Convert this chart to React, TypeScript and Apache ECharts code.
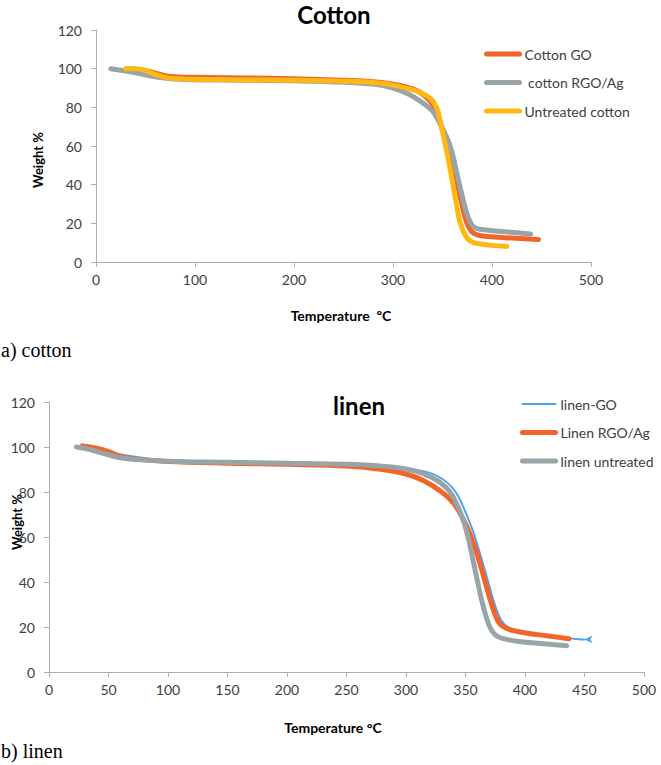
import React, { useEffect, useRef } from "react";
import * as echarts from "echarts";

// ---- Cotton (top) ----
const cottonGoTemp = [32, 45, 55, 65, 75, 100, 150, 200, 250, 280, 300, 320, 332, 342, 349, 355, 360, 365, 369.5, 374, 379, 385, 395, 420, 447];
const cottonGoWeight = [100, 99.5, 98.5, 97, 96, 95.5, 95.2, 94.8, 94, 93.3, 92, 89.5, 86, 80, 70, 60, 50, 40, 30, 21, 16, 14, 13.2, 12.4, 11.7];

const cottonRgoTemp = [15, 30, 45, 60, 75, 100, 150, 200, 250, 280, 300, 315, 328, 340, 347, 353, 359, 364, 370, 376, 382, 390, 410, 439];
const cottonRgoWeight = [100, 98.8, 97.3, 95.8, 94.8, 94.3, 94, 93.7, 93, 92, 90, 87, 83, 78, 72, 66, 58, 47, 34, 23, 18, 16.8, 15.8, 14.5];

const cottonRawTemp = [30, 40, 50, 60, 75, 100, 150, 200, 250, 280, 300, 320, 330, 338, 344, 349, 353, 357, 360.5, 364, 368, 374, 380, 390, 400, 415];
const cottonRawWeight = [100, 100, 99, 97, 95, 94.5, 94.2, 94, 93.5, 92.8, 91.5, 89, 87, 84.5, 80, 70, 60, 50, 40, 30, 20, 13, 10.3, 9.2, 8.6, 8];

// ---- Linen (bottom) ----
const linenGoTemp = [25, 40, 55, 75, 100, 150, 200, 250, 280, 300, 320, 330, 338, 344, 350, 356, 362, 368, 374, 380, 386, 395, 410, 430, 445, 450];
const linenGoWeight = [100, 99, 97.3, 95.5, 94, 93.2, 92.7, 92.2, 91.5, 90.5, 88.5, 86, 82.5, 78, 71, 63, 53, 42, 31, 23, 19.8, 18.2, 17, 15.5, 14.6, 14.5];

const linenRgoTemp = [28, 40, 50, 60, 75, 100, 150, 200, 250, 280, 300, 315, 330, 340, 348, 354, 360, 366, 372, 378, 384, 392, 405, 420, 437];
const linenRgoWeight = [100.5, 99.5, 98, 95.8, 94.5, 93.5, 92.8, 92.3, 91.5, 90, 88, 85, 80, 75, 68, 61, 52, 41, 30, 22, 19.5, 18.2, 17, 16, 14.8];

const linenRawTemp = [23, 35, 50, 60, 75, 100, 150, 200, 250, 280, 300, 315, 328, 337, 344, 349, 353, 357, 361, 365, 370, 375, 382, 395, 410, 435];
const linenRawWeight = [100, 98.8, 96.5, 95.2, 94.4, 93.7, 93.2, 92.8, 92.3, 91.5, 90.2, 88, 84.5, 80, 73, 66, 58, 48, 38, 29, 20.5, 16.5, 14.8, 13.6, 12.8, 11.7];

const cottonXTicks = { min: 0, max: 500, interval: 100 };
const linenXTicks = { min: 0, max: 500, interval: 50 };
const weightTicks = { min: 0, max: 120, interval: 20 };

const cottonNames = ["Cotton GO", " cotton RGO/Ag", "Untreated cotton"];
const linenNames = ["linen-GO", "Linen RGO/Ag", "linen untreated"];

const ORANGE = "#F2642A";
const GREY = "#98A4A7";
const YELLOW = "#FDB813";
const BLUE = "#4DA3EA";
const AXIS = "#A9B3B6";
const TXT = "#404040";
const FONT = "Lato, 'Open Sans', sans-serif";

const zip = (xs: number[], ys: number[]) => xs.map((x, i) => [x, ys[i]]);

export default function App() {
  const ref = useRef<HTMLDivElement>(null);
  useEffect(() => {
    if (!ref.current) return;
    const chart = echarts.init(ref.current, undefined, { renderer: "svg" });

    const axisCommon = (gridIndex: number, ticks: any, margin: number) => ({
      type: "value",
      gridIndex,
      ...ticks,
      axisLine: { show: true, lineStyle: { color: AXIS, width: 1 } },
      axisTick: { show: true, length: 5, lineStyle: { color: AXIS } },
      splitLine: { show: false },
      axisLabel: { fontSize: 14, color: TXT, fontFamily: FONT, margin },
    });

    const line = (name: string, data: any[], color: string, width: number, xi: number, extra: any = {}) => ({
      type: "line",
      name,
      xAxisIndex: xi,
      yAxisIndex: xi,
      data,
      symbol: "none",
      smooth: 0.4,
      lineStyle: { color, width, cap: "round", join: "round" },
      itemStyle: { color },
      ...extra,
    });

    const blueData: any[] = zip(linenGoTemp, linenGoWeight);
    const last = blueData.length - 1;
    blueData[last] = { value: blueData[last], symbol: "arrow", symbolSize: [6, 8], symbolRotate: 90 };

    const legendCommon = {
      orient: "vertical",
      itemWidth: 33,
      itemHeight: 14,
      itemGap: 14.5,
      itemStyle: { opacity: 0 },
      textStyle: { fontSize: 14, color: TXT, fontFamily: FONT },
    };
    const legendItem = (name: string, width: number) => ({ name, lineStyle: { width, cap: "round" } });

    chart.setOption({
      animation: false,
      backgroundColor: "#ffffff",
      grid: [
        { left: 96, top: 30, width: 495, height: 232 },
        { left: 49, top: 402, width: 595, height: 270 },
      ],
      xAxis: [axisCommon(0, cottonXTicks, 10), axisCommon(1, linenXTicks, 10)],
      yAxis: [axisCommon(0, weightTicks, 14), axisCommon(1, weightTicks, 14)],
      legend: [
        { ...legendCommon, data: cottonNames.map((n) => legendItem(n, 5)), left: 479, top: 42 },
        { ...legendCommon, data: linenNames.map((n, i) => legendItem(n, i === 0 ? 2 : 5)), left: 515, top: 392 },
      ],
      series: [
        line(cottonNames[0], zip(cottonGoTemp, cottonGoWeight), ORANGE, 5, 0),
        line(cottonNames[1], zip(cottonRgoTemp, cottonRgoWeight), GREY, 5, 0),
        line(cottonNames[2], zip(cottonRawTemp, cottonRawWeight), YELLOW, 5, 0),
        line(linenNames[0], blueData, BLUE, 2, 1, { showSymbol: true }),
        line(linenNames[1], zip(linenRgoTemp, linenRgoWeight), ORANGE, 5, 1),
        line(linenNames[2], zip(linenRawTemp, linenRawWeight), GREY, 5, 1),
      ],
      graphic: [
        { type: "text", x: 334, y: 14, style: { text: "Cotton", font: `bold 24px ${FONT}`, fill: "#000", align: "center", verticalAlign: "middle" } },
        { type: "text", x: 359, y: 405, style: { text: "linen", font: `bold 24px ${FONT}`, fill: "#000", align: "center", verticalAlign: "middle" } },
        { type: "text", x: 341, y: 315, style: { text: "Temperature  ºC", font: `bold 14px ${FONT}`, fill: "#000", align: "center", verticalAlign: "middle" } },
        { type: "text", x: 333, y: 727, style: { text: "Temperature °C", font: `bold 14px ${FONT}`, fill: "#000", align: "center", verticalAlign: "middle" } },
        { type: "text", x: 38, y: 160, rotation: Math.PI / 2, style: { text: "Weight %", font: `bold 13px ${FONT}`, fill: "#000", align: "center", verticalAlign: "middle" } },
        { type: "text", x: 17, y: 522, rotation: Math.PI / 2, style: { text: "Weight %", font: `bold 13px ${FONT}`, fill: "#000", align: "center", verticalAlign: "middle" } },
        { type: "text", x: 1, y: 350, style: { text: "a) cotton", font: "20px 'Liberation Serif', serif", fill: "#000", align: "left", verticalAlign: "middle" } },
        { type: "text", x: 1, y: 751, style: { text: "b) linen", font: "20px 'Liberation Serif', serif", fill: "#000", align: "left", verticalAlign: "middle" } },
      ],
    });
    return () => chart.dispose();
  }, []);
  return <div ref={ref} style={{ position: "absolute", left: 0, top: 0, width: 661, height: 765 }} />;
}
